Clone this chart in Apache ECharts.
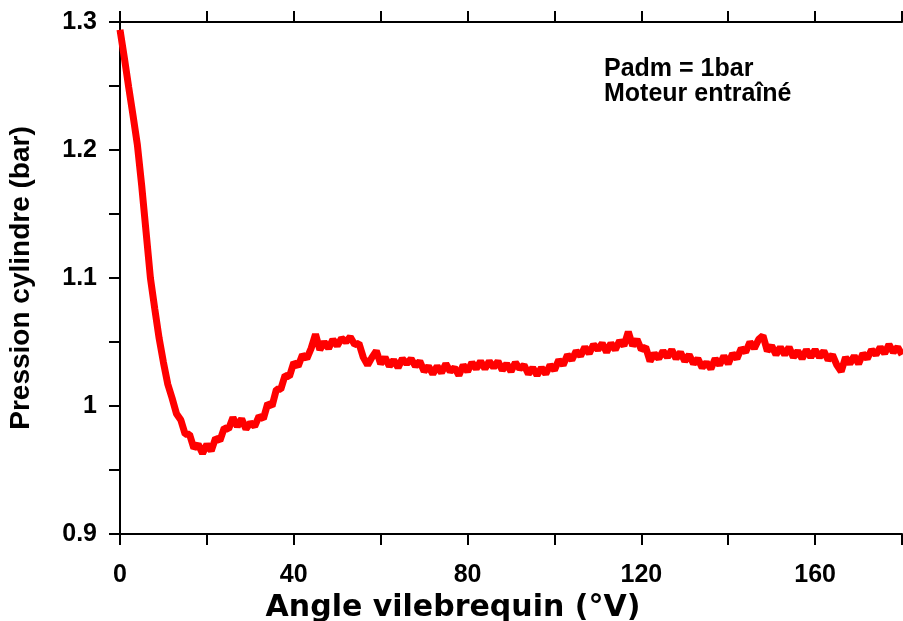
<!DOCTYPE html>
<html>
<head>
<meta charset="utf-8">
<script src="https://cdn.jsdelivr.net/npm/echarts@6/dist/echarts.min.js"></script>
<style>
  html, body { margin: 0; padding: 0; background: #fff; }
  #chart { width: 903px; height: 621px; }
</style>
</head>
<body>
<div id="chart"></div>
<script>
// crank angle (deg V), one sample per degree
const angles = [];
for (let a = 0; a <= 180; a++) angles.push(a);

// cylinder pressure (bar)
const pressure = [
  1.294, 1.272, 1.249, 1.227, 1.204, 1.172, 1.136, 1.100, 1.076, 1.053,
  1.034, 1.017, 1.006, 0.994, 0.989, 0.978, 0.978, 0.967, 0.970, 0.963,
  0.970, 0.965, 0.975, 0.973, 0.983, 0.982, 0.991, 0.984, 0.990, 0.982,
  0.987, 0.984, 0.992, 0.990, 1.002, 1.000, 1.013, 1.013, 1.024, 1.023,
  1.034, 1.031, 1.040, 1.037, 1.045, 1.056, 1.044, 1.050, 1.045, 1.052,
  1.047, 1.053, 1.050, 1.054, 1.048, 1.049, 1.038, 1.032, 1.038, 1.043,
  1.033, 1.038, 1.031, 1.036, 1.030, 1.037, 1.033, 1.037, 1.031, 1.035,
  1.027, 1.031, 1.025, 1.031, 1.026, 1.033, 1.027, 1.030, 1.024, 1.032,
  1.027, 1.034, 1.029, 1.035, 1.029, 1.035, 1.030, 1.035, 1.028, 1.033,
  1.027, 1.034, 1.029, 1.032, 1.025, 1.030, 1.024, 1.030, 1.025, 1.032,
  1.028, 1.036, 1.032, 1.040, 1.036, 1.043, 1.039, 1.046, 1.041, 1.048,
  1.044, 1.049, 1.042, 1.049, 1.044, 1.051, 1.047, 1.058, 1.047, 1.052,
  1.044, 1.046, 1.035, 1.041, 1.037, 1.043, 1.038, 1.044, 1.037, 1.042,
  1.035, 1.040, 1.033, 1.037, 1.030, 1.034, 1.029, 1.037, 1.032, 1.039,
  1.033, 1.041, 1.037, 1.045, 1.042, 1.050, 1.045, 1.052, 1.055, 1.043,
  1.047, 1.040, 1.046, 1.040, 1.046, 1.038, 1.043, 1.037, 1.044, 1.038,
  1.044, 1.038, 1.043, 1.036, 1.040, 1.032, 1.027, 1.038, 1.033, 1.039,
  1.033, 1.041, 1.037, 1.044, 1.040, 1.046, 1.041, 1.048, 1.042, 1.046,
  1.040
];

const xLabeled = [0, 40, 80, 120, 160];
const yLabeled = [0.9, 1, 1.1, 1.2, 1.3];
const noteLines = ['Padm = 1bar', 'Moteur entraîné'];

const chart = echarts.init(document.getElementById('chart'));

const tickFont = { fontFamily: 'Liberation Sans', fontWeight: 'bold', fontSize: 25, color: '#000' };
const axisLine = { show: true, lineStyle: { color: '#000', width: 2 } };
const axisTick = { show: true, length: 11, lineStyle: { color: '#000', width: 2 } };

chart.setOption({
  animation: false,
  backgroundColor: '#fff',
  grid: { left: 120, right: 1, top: 22, bottom: 87, outerBoundsMode: 'none', containLabel: false },
  xAxis: [
    {
      type: 'value', min: 0, max: 180, interval: 20, position: 'bottom',
      axisLine, axisTick, splitLine: { show: false },
      axisLabel: Object.assign({}, tickFont, {
        margin: 29,
        formatter: (v) => (xLabeled.includes(v) ? String(v) : '')
      }),
      name: 'Angle vilebrequin (°V)',
      nameLocation: 'middle',
      nameGap: 58,
      nameTextStyle: {
        fontFamily: 'DejaVu Sans', fontWeight: 'bold', fontSize: 30, color: '#000',
        padding: [0, 116, 0, 0]
      }
    },
    {
      type: 'value', min: 0, max: 180, interval: 20, position: 'top',
      axisLine, axisTick, axisLabel: { show: false }, splitLine: { show: false }
    }
  ],
  yAxis: [
    {
      type: 'value', min: 0.9, max: 1.3, interval: 0.05, position: 'left',
      axisLine, axisTick, splitLine: { show: false },
      axisLabel: Object.assign({}, tickFont, {
        margin: 23,
        formatter: (v) => {
          const r = Math.round(v * 100) / 100;
          return yLabeled.some((t) => Math.abs(t - r) < 1e-6) ? String(Math.round(r * 10) / 10) : '';
        }
      }),
      name: 'Pression cylindre (bar)',
      nameLocation: 'middle',
      nameGap: 85,
      nameTextStyle: { fontFamily: 'Liberation Sans', fontWeight: 'bold', fontSize: 28, color: '#000' }
    },
    {
      type: 'value', min: 0.9, max: 1.3, interval: 0.05, position: 'right',
      axisLine, axisTick: { show: false }, axisLabel: { show: false }, splitLine: { show: false }
    }
  ],
  graphic: [
    {
      type: 'text', left: 604, top: 57,
      style: {
        text: noteLines.join('\n'),
        fontFamily: 'Liberation Sans', fontWeight: 'bold', fontSize: 25,
        lineHeight: 25, fill: '#000'
      }
    }
  ],
  series: [
    {
      type: 'line',
      data: angles.map((a, i) => [a, pressure[i]]),
      showSymbol: false,
      lineStyle: { color: '#ff0000', width: 7 },
      itemStyle: { color: '#ff0000' }
    }
  ]
});
</script>
</body>
</html>
